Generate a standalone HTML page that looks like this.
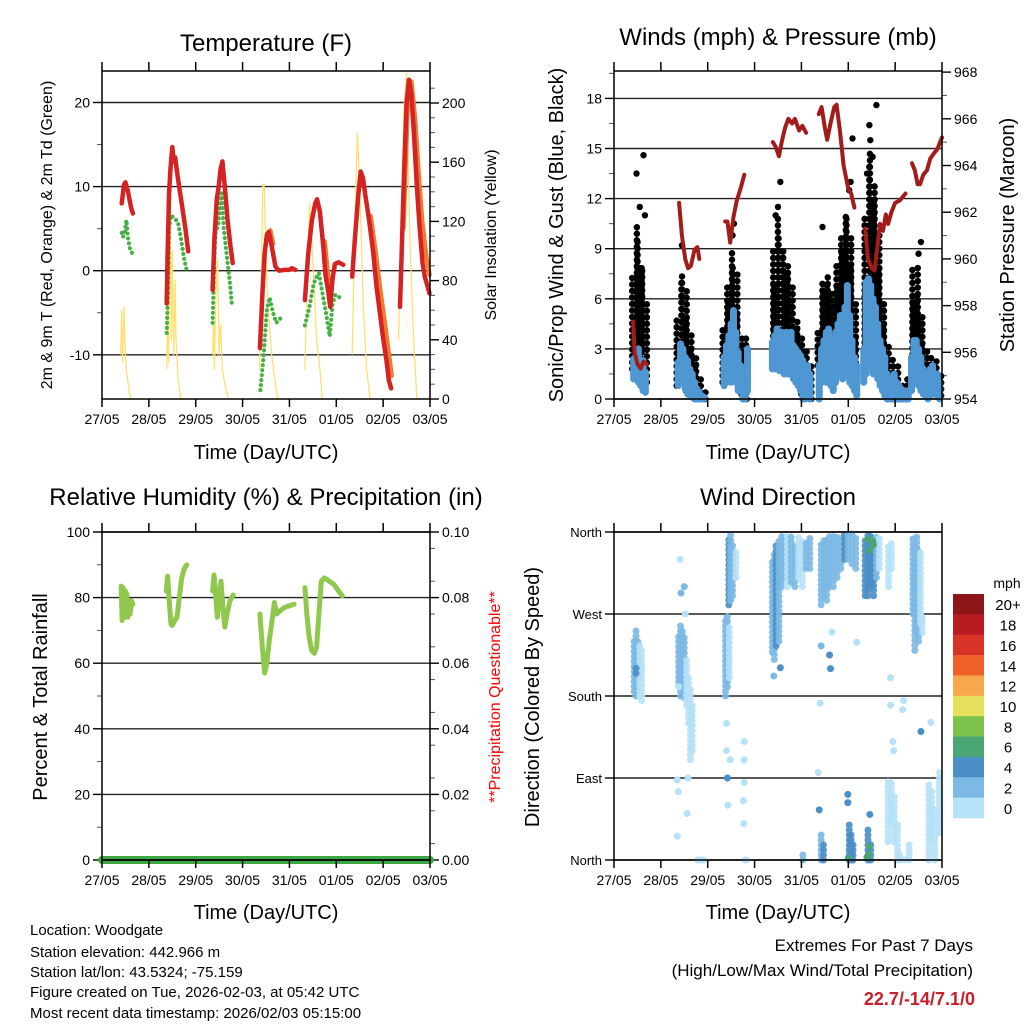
<!DOCTYPE html>
<html><head><meta charset="utf-8">
<style>
html,body{margin:0;padding:0;background:#fff;}
svg{display:block;font-family:"Liberation Sans",Arial,sans-serif;}
</style></head>
<body>
<svg id="root" width="1024" height="1024" viewBox="0 0 1024 1024" xmlns="http://www.w3.org/2000/svg"></svg>
<script>
// ---------- DATA ----------
const dayLabels = ["27/05","28/05","29/05","30/05","31/05","01/05","02/05","03/05"];
const tempT = [0.42,0.47,0.50,0.55,0.62,0.66,null,
 1.38,1.40,1.43,1.46,1.50,1.53,1.56,1.62,1.70,1.78,1.84,null,
 2.36,2.40,2.45,2.49,2.53,2.57,2.62,2.68,2.74,2.79,null,
 3.37,3.42,3.47,3.52,3.56,3.62,3.70,3.78,3.90,4.00,4.05,4.13,null,
 4.33,4.40,4.48,4.55,4.59,4.65,4.72,4.77,4.83,4.87,4.92,4.97,5.05,5.15,null,
 5.34,5.40,5.47,5.52,5.57,5.62,5.70,5.79,5.86,5.93,6.00,6.07,6.12,6.17,null,
 6.36,6.40,6.45,6.50,6.55,6.60,6.66,6.72,6.78,6.84,6.89,6.99];
const tempV = [8.0,10.2,10.5,9.5,7.5,6.8,null,
 -3.9,2,9,12,14.7,13,13.5,11,8,5,2.3,null,
 -2.3,4,8.5,10,12,13.0,10,6,3,0.9,null,
 -9.2,-3,2,4.3,4.6,3,0.5,0,0.1,0.1,0.3,0.1,null,
 -3.5,2,6,8,8.5,7,3,-0.5,-2.5,-4.3,-1,0.8,1,0.7,null,
 -0.7,4,9,11.8,11,9,6,2.1,-2,-5,-8,-10.6,-13,-14.0,null,
 -4.3,3,12,20,22.7,21,16,10,5,1,-0.7,-2.7];
const temp9T = [3.50,3.56,3.62,null,4.72,4.78,4.84,null,5.70,5.80,5.90,6.00,6.08,6.15,null,6.40,6.50,6.57,6.65,6.72,6.80,6.88,6.96];
const temp9V = [4.0,4.8,3.2,null,3.5,0,-3,null,6.5,2.5,-2,-6,-9.5,-12.5,null,5,21,22.5,18,12,6,2,-0.5];
const dewT = [0.42,0.45,0.48,0.52,0.55,0.60,0.65,null,
 1.38,1.41,1.43,1.47,1.55,1.62,1.68,1.75,1.81,null,
 2.36,2.39,2.42,2.48,2.55,2.60,2.66,2.72,2.77,null,
 3.38,3.45,3.52,3.58,3.65,3.72,3.80,3.90,null,
 4.33,4.42,4.52,4.60,4.63,4.70,4.78,4.86,4.92,4.98,5.05,5.10];
const dewV = [4.5,4.0,4.5,6.0,4,2.5,2.0,null,
 -7.4,-2,5,6.6,6.2,5.8,4,1.5,0,null,
 -6.2,0,4.5,5.5,9.2,5,2,-1,-3.9,null,
 -14.2,-10,-4.5,-3.2,-5,-6.2,-5.7,-5.8,null,
 -6.5,-4.5,-1.5,-0.5,-0.3,-2.5,-5,-7.8,-4,-2.9,-3,-3.6];
const solT = [0.40,0.42,0.44,0.47,0.49,0.52,0.58,0.62,null,
 1.38,1.40,1.42,1.44,1.46,1.48,1.50,1.53,1.56,1.58,1.62,1.68,null,
 2.36,2.38,2.40,2.43,2.47,2.50,2.53,2.57,2.62,2.70,null,
 3.36,3.40,3.43,3.46,3.50,3.55,3.62,3.70,3.75,null,
 4.33,4.38,4.43,4.47,4.52,4.58,4.65,4.70,null,
 5.34,5.40,5.45,5.48,5.52,5.58,5.65,5.72,null,
 6.33,6.38,6.45,6.50,6.53,6.58,6.65,6.72];
const solV = [30,60,25,62,35,20,5,0,null,
 20,60,25,90,128,40,100,30,80,40,15,0,null,
 30,55,20,70,94,30,50,20,10,0,null,
 20,80,145,145,100,60,30,10,0,null,
 20,80,132,110,80,40,20,0,null,
 30,120,180,160,120,60,20,0,null,
 40,120,200,220,170,100,40,0];
const presT = [0.41,0.44,0.50,0.57,0.63,0.70,null,
 1.39,1.45,1.52,1.58,1.64,1.72,1.78,1.82,null,
 2.37,2.42,2.48,2.55,2.62,2.70,2.78,null,
 3.39,3.45,3.52,3.58,3.65,3.72,3.80,3.86,3.95,4.02,4.10,null,
 4.37,4.43,4.50,4.55,4.62,4.70,4.75,4.82,4.90,5.00,5.06,5.13,null,
 5.36,5.42,5.50,5.56,5.62,5.68,5.74,5.80,5.85,5.92,6.00,6.10,6.22,null,
 6.36,6.42,6.48,6.53,6.60,6.68,6.75,6.82,6.90,6.96,7.0];
const presV = [957.3,956,955.5,955.3,955.6,955.5,null,
 962.4,961,960,959.6,959.7,960.4,960.5,960.0,null,
 961.6,961.6,960.7,961.8,962.5,963,963.6,null,
 965.0,964.8,964.4,965.0,965.6,966.0,965.8,966.0,965.5,965.7,965.4,null,
 966.2,966.5,965.6,965.1,965.8,966.5,966.6,965.5,964.0,963.0,962.8,962.2,null,
 961.3,960,959.6,959.5,960.5,961.5,961.2,961.9,961.5,962.0,962.4,962.5,962.8,null,
 964.1,963.8,963.2,963.2,963.6,963.8,964.3,964.5,964.7,965.0,965.2];
const windT = [0.42,0.47,0.52,0.57,0.62,0.67,
 1.37,1.42,1.47,1.52,1.57,1.62,1.67,1.72,1.77,1.82,1.87,1.92,
 2.35,2.40,2.45,2.50,2.55,2.60,2.65,2.70,2.75,2.80,2.85,
 3.38,3.43,3.48,3.53,3.58,3.63,3.68,3.73,3.78,3.83,3.88,3.93,3.98,4.03,4.08,4.13,4.18,
 4.38,4.43,4.48,4.53,4.58,4.63,4.68,4.73,4.78,4.83,4.88,4.93,4.98,5.03,5.08,5.13,5.18,
 5.33,5.38,5.43,5.48,5.53,5.58,5.63,5.68,5.73,5.78,
 5.83,5.88,5.93,5.98,6.03,6.08,6.13,6.18,6.23,6.28,
 6.35,6.40,6.45,6.50,6.55,6.60,6.65,6.70,6.75,6.80,6.85,6.90,6.95];
const windLo = [1.2,1.3,1.0,0.8,0.5,0.4,
 0.8,1.0,1.0,0.6,0.3,0.2,0.1,0,0,0,0,0,
 0.8,1.0,1.2,1.0,1.5,1.0,0.5,0.5,0,0,0.5,
 1.8,1.8,2.0,1.7,1.8,1.5,1.5,1.5,1.8,1.2,1.0,0.8,0.5,0,0,0.3,0,
 0,1.0,1.2,1.0,1.5,0.8,0.5,1.0,1.5,1.5,1.2,1.5,2.0,1.0,0.8,0.5,0.2,
 1.0,1.5,2.0,2.0,1.5,1.5,1.2,0.8,0.5,0.2,
 0,0,0,0,0,0,0,0,0,0,
 0.5,1.0,1.2,0.8,0.5,0.3,0.2,0,0.2,0.5,0.3,0.2,0];
const windHi = [2.4,2.6,3.0,2.2,2.3,1.6,
 2.2,3.3,3.0,2.5,2.3,1.8,1.5,1.0,0.6,0.4,0.2,0.1,
 2.5,3.2,3.8,4.5,5.3,4.0,2.8,2.0,0.8,0.5,3.0,
 3.4,3.8,4.2,4.0,4.0,3.7,4.0,3.5,4.0,3.2,3.0,2.8,2.6,2.3,1.5,2.0,1.5,
 2.0,3.0,3.5,4.0,4.2,3.5,3.0,4.0,4.5,5.0,4.5,5.5,6.8,5.0,3.5,2.5,2.0,
 3.0,7.0,7.2,6.8,6.0,5.5,4.5,3.5,3.0,2.5,
 1.5,1.2,1.0,1.5,1.0,0.8,0.6,0.5,0.4,0.5,
 2.5,3.5,3.5,3.0,2.5,1.8,1.5,1.2,1.8,2.0,1.5,1.5,1.0];
const gustLo = [1.8,2,2.5,3,2,1,
 0.8,1.5,1.5,1,0.5,0.3,0.2,0.1,0,0,0,0,
 1,1.5,2,2,2.5,2,1,0.5,0.3,0,0.5,
 2.5,3,3,3,3,3,2.5,2,2,2,1.5,1,0.5,0.3,0.5,0.5,0,
 2,2.5,3,3,2.5,2,2,2,2.5,2.5,3,3,3.5,3,2,1,0.5,
 2,3,3,3,3,2.5,2,1.5,1,0.5,
 0,0,0,0,0,0,0,0,0,0,
 1,1.5,2,1.5,1,0.5,0.5,0.3,0.5,0.5,0.3,0.3,0.2];
const gustHi = [7.5,9.5,10.5,8,8,6,
 5,7.5,7,6.5,5,4,3,2.5,2,1.3,0.8,0.4,
 4.5,6,7,8,9,7.5,5,4,3,1.5,4,
 7,9,10,11,9,9,8,7.5,7,6,5,4.5,4,3,3,3,2,
 4,6.5,7,7.5,7,6,6.5,7,8,9,10,11,11,10,8,6,4,
 7,11,15,14,13,12,10,8,6,4.5,
 3.5,2.5,2,2.5,2,1.5,1,1,1.2,0.8,
 6,8,8,6.5,5,3.5,3,2,2,2.5,2.5,2,1.5];
const gustPtT = [0.48,0.63,0.66,0.55,1.45,2.56,2.53,3.55,3.50,3.45,4.45,5.09,5.05,5.02,5.60,5.45,5.47,5.52,5.40,6.55,6.50];
const gustPtV = [13.5,14.6,11.0,11.5,9.2,10.5,9.8,13.0,11.5,11.0,10.3,15.6,13.0,12.5,17.6,16.4,15.5,14.5,13.5,9.4,8.7];
const rhT = [0.41,0.43,0.45,0.48,0.50,0.53,0.55,0.58,0.60,0.63,0.66,null,
 1.37,1.40,1.43,1.47,1.50,1.55,1.60,1.65,1.70,1.76,1.81,null,
 2.36,2.39,2.42,2.46,2.50,2.54,2.58,2.62,2.67,2.73,2.80,null,
 3.37,3.42,3.47,3.52,3.57,3.62,3.68,3.73,3.80,3.90,4.00,4.10,null,
 4.33,4.37,4.42,4.47,4.53,4.58,4.63,4.68,4.75,4.85,4.95,5.05,5.13];
const rhV = [83.5,73,83,74,82,81,74,79,75,79,78,null,
 82,86.5,80,72,71.5,73,74,80,86,89,90,null,
 82,86.9,82,74,80,85,77,71,75,79,80.8,null,
 75,65,57,60,67,72,78.5,75,76,77,77.5,78,null,
 83,75,68,64,63,65,75,85,86,85,84,82,80.5];
const precipT = [0,7];
const precipV = [0,0];
const dirClT = [0.43,0.47,0.51,0.55,0.59,0.47,
 1.38,1.42,1.46,1.50,1.55,1.59,1.63,1.67,
 2.38,2.42,2.46,2.45,2.49,2.53,2.60,
 3.38,3.42,3.46,3.52,3.58,3.64,3.70,3.78,3.86,3.94,4.02,4.10,4.18,
 4.42,4.48,4.54,4.60,4.68,4.76,4.84,4.92,5.00,5.08,5.16,
 5.36,5.42,5.48,5.54,5.60,5.66,5.86,5.92,
 6.38,6.42,6.46,6.50,6.54,6.58,
 4.03,4.42,4.47,5.02,5.06,5.10,5.42,5.48,
 5.85,5.92,5.98,6.05,6.10,6.20,6.30,6.72,6.78,6.85,6.94];
const dirClLo = [185,180,190,180,175,205,
 190,180,185,178,170,150,110,120,
 180,190,200,280,285,290,310,
 228,220,235,240,300,310,300,305,300,310,300,320,320,
 280,290,285,300,300,310,320,330,330,325,320,
 290,290,300,290,310,320,300,320,
 270,230,250,240,260,250,
 0,0,0,0,0,0,0,0,
 20,40,20,0,0,0,0,0,20,0,30];
const dirClHi = [245,252,240,235,230,215,
 250,262,255,245,220,200,190,170,
 265,270,260,355,358,345,340,
 330,340,345,355,358,358,355,355,345,355,350,350,355,
 350,355,355,358,355,358,358,358,358,358,355,
 355,358,358,355,355,358,345,350,
 355,350,355,340,340,270,
 8,30,20,40,30,20,35,20,
 90,85,70,40,10,5,20,85,75,60,100];
const dirClS = [1,1,1,0,0,2,
 1,1,1,1,0,0,0,0,
 1,1,0,2,1,1,0,
 1,1,2,1,1,1,0,1,1,0,0,1,1,
 1,1,1,1,1,1,1,2,1,1,1,
 2,2,2,2,1,0,0,0,
 1,1,1,1,0,0,
 1,1,2,2,2,2,2,2,
 0,0,0,0,0,0,0,0,0,0,0];
const dirPtT = [1.41,1.43,1.50,1.52,1.38,1.35,1.37,1.35,1.56,1.58,1.79,1.84,1.90,
 2.40,2.40,2.42,2.43,2.48,2.78,2.78,2.78,2.76,2.77,2.80,2.83,
 3.41,3.55,4.40,4.36,4.60,4.62,4.42,4.65,5.18,5.90,5.90,5.97,5.95,6.55,6.76,6.18,6.16,
 5.42,5.52,5.54,5.45,5.00,5.40,5.43,5.45,4.99,4.99,5.46,4.38];
const dirPtD = [330,293,300,270,190,88,75,26,51,90,0,0,0,
 150,120,90,60,110,130,110,85,65,40,0,0,
 202,211,172,96,225,210,235,250,239,170,200,120,130,141,151,175,165,
 352,350,346,340,2,3,6,15,72,63,50,55];
const dirPtS = [0,1,1,0,0,0,0,0,0,0,0,0,0,
 0,0,2,0,0,0,0,0,0,0,0,0,
 1,2,0,0,2,2,1,0,0,0,0,0,0,2,0,0,0,
 3,3,3,3,3,3,3,3,2,2,2,2];
const cbarLabels = ["20+","18","16","14","12","10","8","6","4","2","0"];
const cbarColors = ["#8e1518","#b81c22","#d93327","#ef6128","#f6a84a","#e6e05c","#7cc24b","#4aa672","#4a8fc6","#7cb9e4","#b6e2f8"];
const spdColors = ["#b6e2f8","#7cb9e4","#4a8fc6","#4aa672"];

// ---------- HELPERS ----------
const NS = "http://www.w3.org/2000/svg";
const root = document.getElementById("root");
function mk(tag, attrs, parent){
  const e = document.createElementNS(NS, tag);
  for (const k in attrs) e.setAttribute(k, attrs[k]);
  (parent||root).appendChild(e);
  return e;
}
function group(name){
  const g = mk("g", {});
  
  
  return g;
}
function txt(g, x, y, s, size, anchor, extra){
  const a = Object.assign({x:x, y:y, "font-size":size, "text-anchor":anchor||"middle", fill:"#000"}, extra||{});
  const e = mk("text", a, g);
  e.textContent = s;
  return e;
}
function pathFrom(T, V, xf, yf){
  let d = "", pen = false;
  for (let i=0;i<T.length;i++){
    if (T[i]===null || V[i]===null){ pen=false; continue; }
    d += (pen?"L":"M") + xf(T[i]).toFixed(1) + "," + yf(V[i]).toFixed(1);
    pen = true;
  }
  return d;
}
const DAY = 328/7;

function frame(g, x0, y0, x1, y1){
  const r = mk("rect", {x:x0, y:y0, width:x1-x0, height:y1-y0, fill:"none", stroke:"#000", "stroke-width":1.5}, g);
  
  
}
function xAxis(g, x0, y0, y1, titleY){
  for (let i=0;i<dayLabels.length;i++){
    const x = x0 + i*DAY;
    mk("line", {x1:x, x2:x, y1:y0, y2:y0-9, stroke:"#000", "stroke-width":1.5}, g);
    mk("line", {x1:x, x2:x, y1:y1, y2:y1+8, stroke:"#000", "stroke-width":1.5}, g);
    const t = txt(g, x, y1+25, dayLabels[i], 14);
    
    
  }
  const tt = txt(g, x0+164, titleY, "Time (Day/UTC)", 20);
  
  
}
function hTicks(g, vals, yf, x0, x1, grid, side, labelFmt, minorVals, size){
  for (const v of vals){
    const y = yf(v);
    if (grid) mk("line", {x1:x0, x2:x1, y1:y, y2:y, stroke:"#222", "stroke-width":1.4}, g);
    if (side==="L"){
      mk("line", {x1:x0-9, x2:x0, y1:y, y2:y, stroke:"#000", "stroke-width":1.4}, g);
      const t = txt(g, x0-12, y+5, labelFmt(v), size||14, "end");
      
      
    } else {
      mk("line", {x1:x1, x2:x1+9, y1:y, y2:y, stroke:"#000", "stroke-width":1.4}, g);
      const t = txt(g, x1+12, y+5, labelFmt(v), size||14, "start");
      
      
    }
  }
  for (const v of (minorVals||[])){
    const y = yf(v);
    if (side==="L") mk("line", {x1:x0-5, x2:x0, y1:y, y2:y, stroke:"#555", "stroke-width":1}, g);
    else mk("line", {x1:x1, x2:x1+5, y1:y, y2:y, stroke:"#555", "stroke-width":1}, g);
  }
}
function vTitle(g, x, y, s, size, color, name){
  const t = txt(g, x, y, s, size, "middle", {transform:"rotate(-90 "+x+" "+y+")", fill:color||"#000"});
  
  
}
function title(g, x, y, s, name){
  const t = txt(g, x, y, s, 24);
  
  
}
function range(a,b,s){ const r=[]; for(let v=a; v<=b+1e-9; v+=s) r.push(+v.toFixed(4)); return r; }

// ---------- PANEL 1: Temperature ----------
{
  const g = group("temperature-panel");
  const X0=102, X1=430, Y0=71, Y1=399;
  const xT = t => X0 + t*DAY;
  const yTemp = v => 270.7 - v*8.41;
  const yIns = v => 399 - v*1.48;
  title(g, 266, 51, "Temperature (F)", "temperature-title");
  hTicks(g, [20,10,0,-10], yTemp, X0, X1, true, "L", v=>String(v), [15,5,-5], 14);
  hTicks(g, [0,40,80,120,160,200], yIns, X0, X1, false, "R", v=>String(v), range(10,210,10).filter(v=>v%40), 14);
  const sol = mk("path", {d:pathFrom(solT, solV, xT, yIns), fill:"none", stroke:"#ffe070", "stroke-width":1.3, "stroke-linejoin":"round"}, g);
  
  
  const dew = mk("path", {d:pathFrom(dewT, dewV, xT, yTemp), fill:"none", stroke:"#45b043", "stroke-width":4.2, "stroke-linecap":"round", "stroke-dasharray":"0 5"}, g);
  
  
  const t9 = mk("path", {d:pathFrom(temp9T, temp9V, t=>xT(t)+1.5, yTemp), fill:"none", stroke:"#f07a30", "stroke-width":4.5, "stroke-linecap":"round", "stroke-linejoin":"round"}, g);
  
  
  const t2 = mk("path", {d:pathFrom(tempT, tempV, xT, yTemp), fill:"none", stroke:"#d52222", "stroke-width":4.5, "stroke-linecap":"round", "stroke-linejoin":"round"}, g);
  
  
  frame(g, X0, Y0, X1, Y1);
  xAxis(g, X0, Y0, Y1, 459);
  vTitle(g, 52, 235, "2m & 9m T (Red, Orange) & 2m Td (Green)", 16, "#000", "temperature-y-axis-title");
  vTitle(g, 496, 235, "Solar Insolation (Yellow)", 16, "#000", "insolation-y-axis-title");
}

// ---------- PANEL 2: Winds & Pressure ----------
{
  const g = group("winds-pressure-panel");
  const X0=614, X1=942, Y0=71, Y1=399;
  const xT = t => X0 + t*DAY;
  const yWind = v => 399 - v*16.7;
  const yPres = p => 399 - (p-954)*23.35;
  title(g, 778, 45, "Winds (mph) & Pressure (mb)", "winds-title");
  hTicks(g, [0,3,6,9,12,15,18], yWind, X0, X1, true, "L", v=>String(v), [1.5,4.5,7.5,10.5,13.5,16.5,19.5], 14);
  hTicks(g, [954,956,958,960,962,964,966,968], yPres, X0, X1, false, "R", v=>String(v), range(955,967,2), 14);
  for (let i=0;i<gustPtT.length;i++){
    const c = mk("circle", {cx:xT(gustPtT[i]), cy:yWind(gustPtV[i]), r:3.2, fill:"#000"}, g);
    
    
  }
  for (let i=0;i<windT.length;i++){
    const x = xT(windT[i]) + ((i%2)?1.5:-1.5);
    const l = mk("line", {x1:x, x2:x, y1:yWind(gustLo[i]), y2:yWind(gustHi[i]), stroke:"#000", "stroke-width":6.5, "stroke-linecap":"round", "stroke-dasharray":"0 6.5"}, g);
    
    
  }
  for (let i=0;i<windT.length;i++){
    const l = mk("line", {x1:xT(windT[i]), x2:xT(windT[i]), y1:yWind(windLo[i]), y2:yWind(windHi[i]), stroke:"#4f97d2", "stroke-width":7, "stroke-linecap":"round"}, g);
    
    
  }
  const p = mk("path", {d:pathFrom(presT, presV, xT, yPres), fill:"none", stroke:"#a31c1c", "stroke-width":4, "stroke-linecap":"round", "stroke-linejoin":"round"}, g);
  
  
  frame(g, X0, Y0, X1, Y1);
  xAxis(g, X0, Y0, Y1, 459);
  vTitle(g, 563, 235, "Sonic/Prop Wind & Gust (Blue, Black)", 20, "#000", "wind-y-axis-title");
  vTitle(g, 1014, 235, "Station Pressure (Maroon)", 20, "#000", "pressure-y-axis-title");
}

// ---------- PANEL 3: RH & Precip ----------
{
  const g = group("humidity-panel");
  const X0=102, X1=430, Y0=532, Y1=860;
  const xT = t => X0 + t*DAY;
  const yRH = v => 860 - v*3.28;
  const yPr = v => 860 - v*3280;
  title(g, 266, 505, "Relative Humidity (%) & Precipitation (in)", "humidity-title");
  hTicks(g, [0,20,40,60,80,100], yRH, X0, X1, true, "L", v=>String(v), [10,30,50,70,90], 14);
  hTicks(g, [0,0.02,0.04,0.06,0.08,0.10], yPr, X0, X1, false, "R", v=>v.toFixed(2), range(0.005,0.095,0.01), 14);
  const pr = mk("path", {d:pathFrom(precipT, precipV, xT, yPr), fill:"none", stroke:"#3fa844", "stroke-width":8, "stroke-linecap":"round"}, g);
  
  
  const rh = mk("path", {d:pathFrom(rhT, rhV, xT, yRH), fill:"none", stroke:"#90c84e", "stroke-width":5, "stroke-linecap":"round", "stroke-linejoin":"round"}, g);
  
  
  frame(g, X0, Y0, X1, Y1);
  mk("line", {x1:X0, x2:X1, y1:Y1, y2:Y1, stroke:"#000", "stroke-width":1.5}, g);
  xAxis(g, X0, Y0, Y1, 919);
  vTitle(g, 47, 697, "Percent & Total Rainfall", 20, "#000", "humidity-y-axis-title");
  vTitle(g, 500, 697, "**Precipitation Questionable**", 16, "#ff0000", "precip-warning");
}

// ---------- PANEL 4: Wind Direction ----------
{
  const g = group("wind-direction-panel");
  const X0=614, X1=942, Y0=532, Y1=860;
  const xT = t => X0 + t*DAY;
  const yDir = d => 860 - d*0.9111;
  title(g, 778, 505, "Wind Direction", "wind-direction-title");
  const names = {0:"North",90:"East",180:"South",270:"West",360:"North"};
  hTicks(g, [0,90,180,270,360], yDir, X0, X1, true, "L", v=>names[v], [], 13);
  for (let i=0;i<dirClT.length;i++){
    const x = xT(dirClT[i]);
    const l = mk("line", {x1:x, x2:x, y1:yDir(dirClLo[i]), y2:yDir(dirClHi[i]), stroke:spdColors[dirClS[i]], "stroke-width":7, "stroke-linecap":"round", "stroke-dasharray":"0 5", opacity:0.9}, g);
    
    
  }
  for (let i=0;i<dirPtT.length;i++){
    const c = mk("circle", {cx:xT(dirPtT[i]), cy:yDir(dirPtD[i]), r:3.5, fill:spdColors[dirPtS[i]]}, g);
    
    
  }
  frame(g, X0, Y0, X1, Y1);
  xAxis(g, X0, Y0, Y1, 919);
  vTitle(g, 539, 697, "Direction (Colored By Speed)", 20, "#000", "direction-y-axis-title");
  const cb = group("speed-colorbar");
  const mph = txt(cb, 1007, 588, "mph", 14);
  
  
  const bh = 224/cbarColors.length;
  for (let i=0;i<cbarColors.length;i++){
    const r = mk("rect", {x:953, y:594+i*bh, width:31, height:bh+0.3, fill:cbarColors[i]}, cb);
    
    
    const t = txt(cb, 1008, 594+i*bh+bh/2+6, cbarLabels[i], 15);
    
    
  }
}

// ---------- FOOTER TEXT ----------
{
  const g = group("station-info");
  const lines = ["Location: Woodgate","Station elevation: 442.966 m","Station lat/lon: 43.5324; -75.159","Figure created on Tue, 2026-02-03, at 05:42 UTC","Most recent data timestamp: 2026/02/03 05:15:00"];
  const ys = [935,957,977,997,1018];
  for (let i=0;i<lines.length;i++){
    const t = txt(g, 30, ys[i], lines[i], 15, "start");
    
    
  }
  const g2 = group("extremes-summary");
  const a = txt(g2, 973, 951, "Extremes For Past 7 Days", 17, "end");
  
  
  const b = txt(g2, 973, 976, "(High/Low/Max Wind/Total Precipitation)", 17, "end");
  
  
  const c = txt(g2, 975, 1005, "22.7/-14/7.1/0", 18, "end", {fill:"#c8202a", "font-weight":"bold"});
  
  
}
</script>
</body></html>
